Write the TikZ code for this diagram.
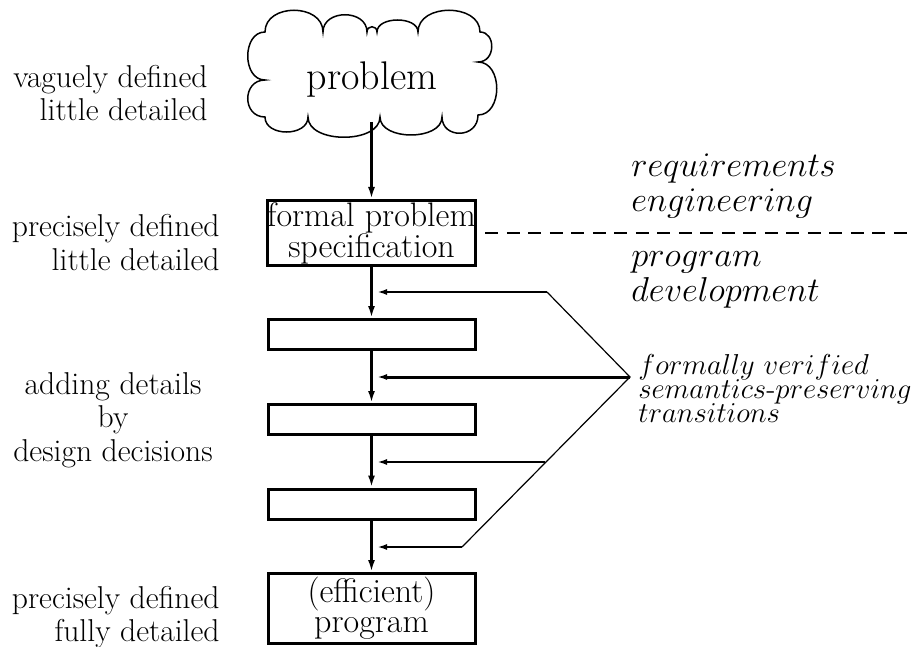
\documentclass[tikz,border=0pt]{standalone}
\usepackage{tikz}
\usetikzlibrary{arrows.meta,positioning}

\begin{document}
\begin{tikzpicture}[
  x=0.5pt, y=-0.5pt,
  box/.style={draw=black, line width=1.5pt, minimum width=103.5pt,
              minimum height=15pt, inner sep=0pt, align=center,
              font=\fontsize{17}{15.5}\selectfont},
  lbl/.style={inner sep=0pt, font=\fontsize{15.8}{16.8}\selectfont},
  phase/.style={inner sep=0pt, anchor=west, align=left,
                font=\fontsize{18.7}{17.5}\selectfont},
  arr/.style={-{Latex[length=6pt,width=3.5pt]}, line width=1.5pt},
  fb/.style={-{Latex[length=5pt,width=3pt]}, line width=1pt},
  fbbold/.style={-{Latex[length=5pt,width=3pt]}, line width=1.5pt},
  wire/.style={line width=0.6pt},
]
  \useasboundingbox (0,0) rectangle (922,647);

  % cloud
  \draw[line width=0.75pt] (265,32)
    .. controls (265,3) and (323,3) .. (323,32)
    .. controls (323,9) and (367,9) .. (367,32)
    .. controls (367,25) and (377,25) .. (377,32)
    .. controls (377,16) and (418,16) .. (418,32)
    .. controls (418,3) and (480,3) .. (480,32)
    .. controls (496,32) and (496,62) .. (478,62)
    .. controls (503,62) and (503,115) .. (478,115)
    .. controls (478,139) and (442,139) .. (442,117)
    .. controls (442,141) and (380,141) .. (380,117)
    .. controls (380,144) and (308,144) .. (308,117)
    .. controls (308,137) and (265,137) .. (265,117)
    .. controls (242,117) and (242,80) .. (265,80)
    .. controls (242,80) and (242,32) .. (265,32) -- cycle;
  \node[inner sep=0pt, font=\fontsize{20}{22}\selectfont] (prob) at (372,80) {problem};
  \coordinate (cloudbot) at (371.5,122);

  % boxes
  \node[box, minimum height=32.5pt] (spec) at (371.5,233) {formal problem\\specification};
  \node[box] (s1) at (371.5,334.5) {};
  \node[box] (s2) at (371.5,419.5) {};
  \node[box] (s3) at (371.5,504) {};
  \node[box, minimum height=35pt, font=\fontsize{17}{14.8}\selectfont] (prog) at (371.5,608.5)
    {(efficient)\\program};

  \draw[arr] (cloudbot) -- (spec);
  \draw[arr] (spec) -- (s1);
  \draw[arr] (s1) -- (s2);
  \draw[arr] (s2) -- (s3);
  \draw[arr] (s3) -- (prog);

  % left remarks
  \node[lbl, anchor=east, align=right] (vague) at (208,93)
    {vaguely defined\\little detailed};
  \node[lbl, anchor=east, align=right] (prec) at (220,242.5)
    {precisely defined\\little detailed};
  \node[lbl, align=center] (adding) at (113,420)
    {adding details\\by\\design decisions};
  \node[lbl, anchor=east, align=right] (full) at (220,617)
    {precisely defined\\fully detailed};

  % phases
  \coordinate (sepend) at (908,233);
  \draw[line width=1pt, dash pattern=on 6.5pt off 4.25pt]
    ([xshift=4pt]spec.east) -- (sepend);
  \node[phase] (req) at (631,186) {$requirements$\\$engineering$};
  \node[phase] (dev) at (631,280) {$program$\\$development$};

  % transitions
  \node[inner sep=0pt, anchor=west, align=left,
        font=\fontsize{14}{12}\selectfont,
        execute at begin node={\lineskiplimit=-20pt\relax}] (trans) at (638,388)
    {$formally\ verified$\\$semantics\mbox{-}preserving$\\$transitions$};
  \coordinate (hub) at (630,377);
  \coordinate (fb1) at (547,292);
  \coordinate (fb3) at (545,462);
  \coordinate (fb4) at (462,547);
  \coordinate (t1) at (377,292);
  \coordinate (t2) at (377,377);
  \coordinate (t3) at (377,462);
  \coordinate (t4) at (377,547);
  \draw[wire] (fb1) -- (hub) -- (fb4);
  \draw[fb] (fb1) -- (t1);
  \draw[fbbold] (hub) -- (t2);
  \draw[fb] (fb3) -- (t3);
  \draw[fb] (fb4) -- (t4);
\end{tikzpicture}
\end{document}
